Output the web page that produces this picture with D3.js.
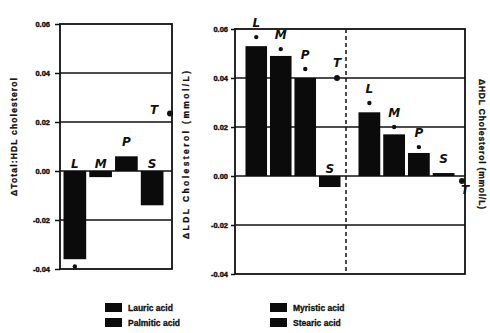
<!DOCTYPE html>
<html>
<head>
<meta charset="utf-8">
<script src="https://cdn.jsdelivr.net/npm/d3@7"></script>
<style>
  body { margin: 0; background: #fff; }
  .tick text { font-family: "Liberation Sans", Arial, sans-serif; font-weight: bold; font-size: 7.5px; fill: #111; stroke: #111; stroke-width: 0.4; }
  .tick line { stroke: #111; stroke-width: 1.5; }
  .title { font-family: "Liberation Sans", Arial, sans-serif; font-weight: bold; font-size: 8.5px; fill: #111; stroke: #111; stroke-width: 0.3; }
  .letter { font-family: "DejaVu Sans", sans-serif; font-weight: bold; font-style: italic; font-size: 12px; fill: #111; }
  .legend { font-family: "Liberation Sans", Arial, sans-serif; font-weight: bold; font-size: 8.5px; fill: #111; stroke: #111; stroke-width: 0.3; }
</style>
</head>
<body>
<div id="chart"></div>
<script>
// fatty acids: lauric, myristic, palmitic, stearic (+ trans marker T)
const acids = ["L", "M", "P", "S"];
const yTicks = [-0.04, -0.02, 0, 0.02, 0.04, 0.06];
const gridTicks = [-0.02, 0, 0.02, 0.04];

// change in total:HDL ratio
const ratioBars = [-0.036, -0.0025, 0.006, -0.014];
const ratioDots = [-0.039, null, null, null];
// change in LDL cholesterol
const ldlBars = [0.053, 0.049, 0.040, -0.0045];
const ldlDots = [0.0567, 0.0518, 0.0437, null];
// change in HDL cholesterol
const hdlBars = [0.026, 0.017, 0.0094, 0.0012];
const hdlDots = [0.0298, 0.020, 0.0118, null];
// trans fatty acid marker: ratio, LDL, HDL
const transVals = [0.0235, 0.040, -0.002];

const legendNames = ["Lauric acid", "Palmitic acid", "Myristic acid", "Stearic acid"];

const W = 490, H = 333;
const ink = "#111";

let svg = d3.select("#chart").append("svg")
  .attr("width", W)
  .attr("height", H);

let yLeft = d3.scaleLinear().domain([-0.04, 0.06]).range([269, 24]);
let yRight = d3.scaleLinear().domain([-0.04, 0.06]).range([274, 29]);

let xLeft = d3.scaleBand().domain(acids).range([63, 164]).paddingInner(0.12).paddingOuter(0.02);
let xLdl = d3.scaleBand().domain(acids).range([245, 341]).paddingInner(0.12).paddingOuter(0.02);
let xHdl = d3.scaleBand().domain(acids).range([358, 455]).paddingInner(0.12).paddingOuter(0.02);

function box(x0, x1, y) {
  // grid lines
  svg.append("g").selectAll("line")
    .data(gridTicks)
    .enter().append("line")
    .attr("x1", x0).attr("x2", x1)
    .attr("y1", d => y(d)).attr("y2", d => y(d))
    .attr("stroke", ink).attr("stroke-width", 1.7);
  svg.append("rect")
    .attr("x", x0).attr("y", y(0.06))
    .attr("width", x1 - x0).attr("height", y(-0.04) - y(0.06))
    .attr("fill", "none").attr("stroke", ink).attr("stroke-width", 1.8);
}

function axis(x0, y, size, pad) {
  let g = svg.append("g")
    .attr("transform", "translate(" + x0 + ",0)")
    .call(d3.axisLeft(y).tickValues(yTicks).tickSize(size).tickPadding(pad)
      .tickFormat(d => d.toFixed(2)));
  g.select(".domain").remove();
}

function bars(x, y, vals, dots, tVal, tOff) {
  svg.append("g").selectAll("rect")
    .data(acids)
    .enter().append("rect")
    .attr("x", d => x(d))
    .attr("width", x.bandwidth())
    .attr("y", (d, i) => y(Math.max(0, vals[i])))
    .attr("height", (d, i) => Math.abs(y(vals[i]) - y(0)))
    .attr("fill", "#0b0b0b");

  svg.append("g").selectAll("circle")
    .data(acids.filter((d, i) => dots[i] != null))
    .enter().append("circle")
    .attr("cx", d => x(d) + x.bandwidth() / 2)
    .attr("cy", d => y(dots[acids.indexOf(d)]))
    .attr("r", 2.2)
    .attr("fill", ink);

  // letters above each bar
  svg.append("g").selectAll("text")
    .data(acids)
    .enter().append("text")
    .attr("class", "letter")
    .attr("text-anchor", "middle")
    .attr("x", d => x(d) + x.bandwidth() / 2)
    .attr("y", (d, i) => {
      let top = y(Math.max(0, vals[i]));
      if (dots[i] != null && dots[i] > 0) top = Math.min(top, y(dots[i]));
      return top - (vals[i] < 0 ? 3 : 10);
    })
    .text(d => d);

  // trans marker
  let tx = x.range()[1] + tOff;
  svg.append("circle")
    .attr("cx", tx).attr("cy", y(tVal)).attr("r", 3)
    .attr("fill", ink);
  svg.append("text")
    .attr("class", "letter")
    .attr("text-anchor", "middle")
    .attr("x", tVal > 0.03 ? tx : (tVal > 0 ? tx - 16 : tx + 3))
    .attr("y", tVal > 0.03 ? y(tVal) - 11 : (tVal > 0 ? y(tVal) + 1 : y(tVal) + 13))
    .text("T");
}

// left panel: total:HDL
box(60, 172, yLeft);
axis(60, yLeft, 5, 5);
bars(xLeft, yLeft, ratioBars, ratioDots, transVals[0], 6);

// right panel: LDL and HDL
box(235, 465, yRight);
axis(235, yRight, 4, 3);
svg.append("line")
  .attr("x1", 346).attr("x2", 346)
  .attr("y1", yRight(0.06)).attr("y2", yRight(-0.04))
  .attr("stroke", ink).attr("stroke-width", 1.5)
  .attr("stroke-dasharray", "4,3");
bars(xLdl, yRight, ldlBars, ldlDots, transVals[1], -4);
bars(xHdl, yRight, hdlBars, hdlDots, transVals[2], 7);

// axis titles
svg.append("text").attr("class", "title")
  .attr("transform", "translate(17,137) rotate(-90)")
  .attr("text-anchor", "middle")
  .attr("textLength", 118).attr("lengthAdjust", "spacing")
  .text("\u0394Total:HDL cholesterol");
svg.append("text").attr("class", "title")
  .attr("transform", "translate(189,155) rotate(-90)")
  .attr("text-anchor", "middle")
  .attr("textLength", 168).attr("lengthAdjust", "spacing")
  .text("\u0394LDL Cholesterol (mmol/L)");
svg.append("text").attr("class", "title")
  .attr("transform", "translate(479,144) rotate(90)")
  .attr("text-anchor", "middle")
  .attr("textLength", 130).attr("lengthAdjust", "spacing")
  .text("\u0394HDL Cholesterol (mmol/L)");

// legend
let leg = svg.append("g").selectAll("g")
  .data(legendNames)
  .enter().append("g")
  .attr("transform", (d, i) => "translate(" + (i < 2 ? 105 : 270) + "," + (303 + (i % 2) * 15) + ")");
leg.append("rect")
  .attr("width", 17).attr("height", 9)
  .attr("fill", "#0b0b0b");
leg.append("text")
  .attr("class", "legend")
  .attr("x", 23).attr("y", 8)
  .text(d => d);
</script>
</body>
</html>
